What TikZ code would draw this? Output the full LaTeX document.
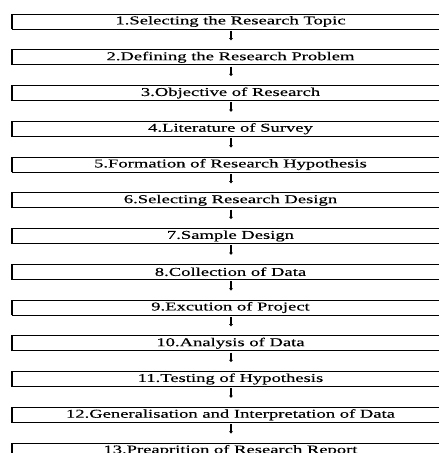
\documentclass[tikz,border=0pt]{standalone}
\usepackage{fontspec}
\setmainfont[FakeStretch=1.55,FakeBold=0.3]{Liberation Serif}
\usetikzlibrary{arrows.meta}
\tikzset{
  stagebox/.style={draw=black, line width=0.9pt, minimum width=437pt, minimum height=15pt,
    inner sep=0pt, font=\fontsize{12pt}{13pt}\selectfont, anchor=center},
  flowarrow/.style={line width=2.6pt, -{Triangle[length=0pt 0.8, width=0pt 1.4]}, shorten <=1.5pt, shorten >=9pt}
}
\begin{document}
\begin{tikzpicture}[x=1pt,y=1pt]
\useasboundingbox[fill=white] (0,0) rectangle (439,-453);
\foreach \i/\t in {1/{1.Selecting the Research Topic},
  2/{2.Defining the Research Problem},
  3/{3.Objective of Research},
  4/{4.Literature of Survey},
  5/{5.Formation of Research Hypothesis},
  6/{6.Selecting Research Design},
  7/{7.Sample Design},
  8/{8.Collection of Data},
  9/{9.Excution of Project},
  10/{10.Analysis of Data},
  11/{11.Testing of Hypothesis},
  12/{12.Generalisation and Interpretation of Data},
  13/{13.Preaprition of Research Report}}{
  \node[stagebox] (b\i) at (230.5,{-21.5-35.75*(\i-1)}) {\t};
  \draw[line width=1.6pt] (b\i.south west) -- (b\i.north west);
}
\foreach \i [evaluate=\i as \j using int(\i+1)] in {1,...,12}{
  \draw[flowarrow] (b\i.south -| 231,0) -- (b\j.north -| 231,0);
}
\end{tikzpicture}
\end{document}
